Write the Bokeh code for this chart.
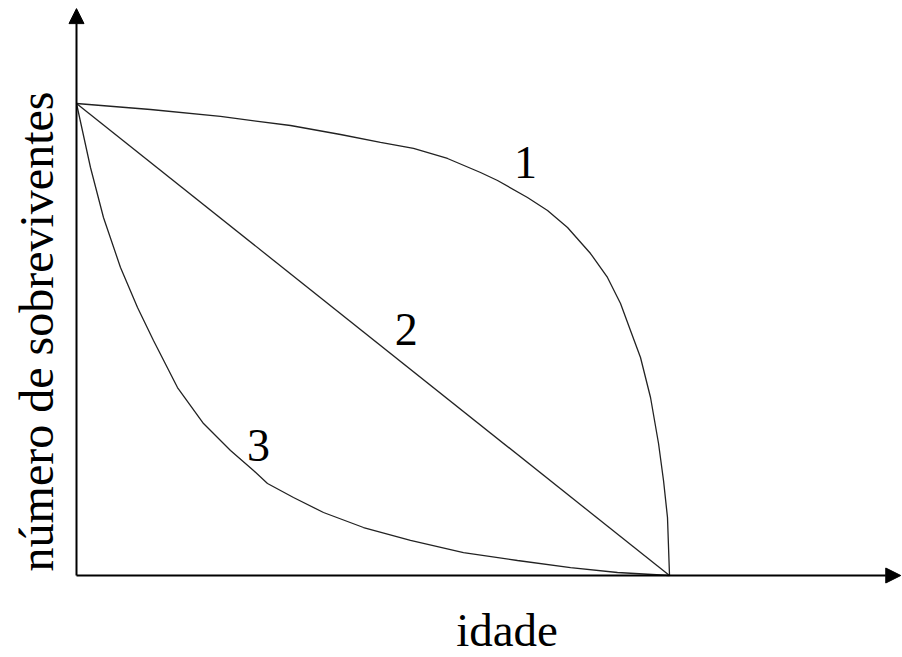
from bokeh.plotting import figure
from bokeh.models import Range1d, Arrow, NormalHead, Label
from bokeh.embed import file_html
from bokeh.resources import INLINE

# ---- data (age 0..100, survivors 0..100) ----
age_1 = [0, 12.48, 24.28, 36.09, 44.52, 51.26, 56.83, 62.56, 68.13, 71.0, 76.05, 79.43,
         82.80, 86.68, 89.54, 91.74, 93.42, 95.11, 96.80, 98.15, 98.99, 99.66, 100]
surv_1 = [100, 98.73, 97.25, 95.34, 93.43, 91.74, 90.47, 88.35, 85.38, 83.69, 80.08, 77.33,
          73.73, 68.22, 63.14, 57.63, 51.91, 46.19, 37.71, 27.97, 20.13, 12.29, 0]

age_2 = [0, 100]
surv_2 = [100, 0]

age_3 = [0, 2.36, 4.55, 7.42, 10.29, 12.98, 17.03, 21.42, 25.97, 29.85, 32.21, 36.59,
         41.65, 48.40, 56.32, 65.26, 74.37, 83.31, 91.23, 100]
surv_3 = [100, 86.44, 75.85, 65.25, 56.78, 49.79, 39.83, 32.20, 26.48, 22.25, 19.49, 16.53,
          13.35, 10.17, 7.42, 4.87, 3.18, 1.69, 0.64, 0]

curve_labels = ["1", "2", "3"]
label_x = [75.7, 55.6, 30.7]
label_y = [87.5, 52.1, 27.5]

x_title = "idade"
y_title = "número de sobreviventes"

FONT = "Liberation Serif"

p = figure(width=902, height=657, output_backend="svg", toolbar_location=None,
           x_axis_type=None, y_axis_type=None, min_border=0,
           x_range=Range1d(-12.816, 139.29), y_range=Range1d(-17.37, 121.82))
p.outline_line_color = None
p.background_fill_color = "white"
p.border_fill_color = "white"

# axes with arrows
p.add_layout(Arrow(end=NormalHead(size=15, fill_color="black", line_color="black"),
                   x_start=0, y_start=0, x_end=139.0, y_end=0,
                   line_color="black", line_width=2))
p.add_layout(Arrow(end=NormalHead(size=15, fill_color="black", line_color="black"),
                   x_start=0, y_start=0, x_end=0, y_end=120.1,
                   line_color="black", line_width=2))

for xs, ys in [(age_1, surv_1), (age_2, surv_2), (age_3, surv_3)]:
    p.line(xs, ys, line_color="#222222", line_width=1.3)

for t, lx, ly in zip(curve_labels, label_x, label_y):
    p.add_layout(Label(x=lx, y=ly, text=t, text_font=FONT, text_font_size="46px",
                       text_align="center", text_baseline="alphabetic", text_color="black"))

p.add_layout(Label(x=72.6, y=-11.5, text=x_title, text_font=FONT, text_font_size="47px",
                   text_align="center", text_baseline="alphabetic", text_color="black"))
p.add_layout(Label(x=-6.75, y=51.7, text=y_title, text_font=FONT, text_font_size="48px",
                   text_align="center", text_baseline="alphabetic", text_color="black",
                   angle=1.5708))

open("out.html", "w").write(file_html(p, INLINE))
